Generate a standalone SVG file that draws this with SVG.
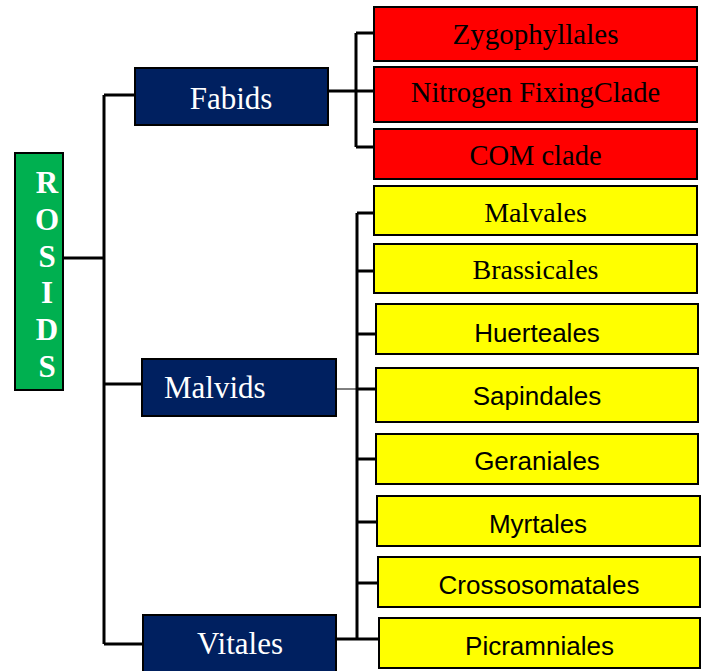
<svg xmlns="http://www.w3.org/2000/svg" width="702" height="671" viewBox="0 0 702 671">
<style>
.box{stroke:#000;stroke-width:2}
.navy{fill:#002060}
.red{fill:#FF0000}
.yel{fill:#FFFF00}
.grn{fill:#00B050}
.serif{font-family:"Liberation Serif","Times New Roman",serif}
.sans{font-family:"Liberation Sans",Arial,sans-serif}
.wt{fill:#fff}
.bt{fill:#000}
.ln{stroke:#000;stroke-width:3;fill:none}
.thin{stroke:#000;stroke-width:1;fill:none}
</style>
<rect width="702" height="671" fill="#fff"/>
<g id="connectors">
<path class="ln" d="M63,258 H104 M104,95 V644 M104,95 H135 M104,384 H142 M104,644 H143"/>
<path class="ln" d="M328,91 H356 M356,33 V147 M356,33 H374 M356,91 H374 M356,147 H374"/>
<path class="ln" d="M357,213 V639 M357,213 H374 M357,271 H374 M357,334 H376 M357,389 H376 M357,459 H376 M357,522 H377 M357,583 H378 M336,639 H379"/>
<path class="thin" d="M336,389 H357"/>
</g>
<g id="rosids">
<rect class="box grn" x="15" y="153" width="48" height="237"/>
<g class="serif wt" font-size="31" font-weight="bold" text-anchor="middle">
<text x="47" y="193">R</text>
<text x="47" y="230">O</text>
<text x="47" y="267">S</text>
<text x="47" y="303">I</text>
<text x="47" y="340">D</text>
<text x="47" y="377">S</text>
</g>
</g>
<g id="fabids">
<rect class="box navy" x="135" y="68" width="193" height="57"/>
<text class="serif wt" x="231" y="109" font-size="31" text-anchor="middle">Fabids</text>
</g>
<g id="malvids">
<rect class="box navy" x="142" y="359" width="194" height="57"/>
<text class="serif wt" x="164" y="398" font-size="31">Malvids</text>
</g>
<g id="vitales">
<rect class="box navy" x="143" y="615" width="193" height="60"/>
<text class="serif wt" x="240" y="654" font-size="31" text-anchor="middle">Vitales</text>
</g>
<g id="zygophyllales">
<rect class="box red" x="374" y="7" width="323" height="54"/>
<text class="serif bt" x="535.5" y="44" font-size="29" text-anchor="middle">Zygophyllales</text>
</g>
<g id="nitrogen">
<rect class="box red" x="374" y="67" width="323" height="55"/>
<text class="serif bt" x="535.5" y="102" font-size="28.5" text-anchor="middle">Nitrogen FixingClade</text>
</g>
<g id="com">
<rect class="box red" x="374" y="129" width="323" height="50"/>
<text class="serif bt" x="535.5" y="165" font-size="28.5" text-anchor="middle">COM clade</text>
</g>
<g id="malvales">
<rect class="box yel" x="374" y="186" width="323" height="49"/>
<text class="serif bt" x="535.5" y="222" font-size="28" text-anchor="middle">Malvales</text>
</g>
<g id="brassicales">
<rect class="box yel" x="374" y="244" width="323" height="49"/>
<text class="serif bt" x="535.5" y="279" font-size="28" text-anchor="middle">Brassicales</text>
</g>
<g id="huerteales">
<rect class="box yel" x="376" y="304" width="322" height="50"/>
<text class="sans bt" x="537" y="342" font-size="26" text-anchor="middle">Huerteales</text>
</g>
<g id="sapindales">
<rect class="box yel" x="376" y="368" width="322" height="54"/>
<text class="sans bt" x="537" y="405" font-size="26" text-anchor="middle">Sapindales</text>
</g>
<g id="geraniales">
<rect class="box yel" x="376" y="434" width="322" height="50"/>
<text class="sans bt" x="537" y="470" font-size="26" text-anchor="middle">Geraniales</text>
</g>
<g id="myrtales">
<rect class="box yel" x="377" y="496" width="323" height="50"/>
<text class="sans bt" x="538" y="533" font-size="26" text-anchor="middle">Myrtales</text>
</g>
<g id="crossosomatales">
<rect class="box yel" x="378" y="557" width="322" height="50"/>
<text class="sans bt" x="539" y="594" font-size="26" text-anchor="middle">Crossosomatales</text>
</g>
<g id="picramniales">
<rect class="box yel" x="379" y="618" width="321" height="50"/>
<text class="sans bt" x="539.5" y="655" font-size="26" text-anchor="middle">Picramniales</text>
</g>
</svg>
